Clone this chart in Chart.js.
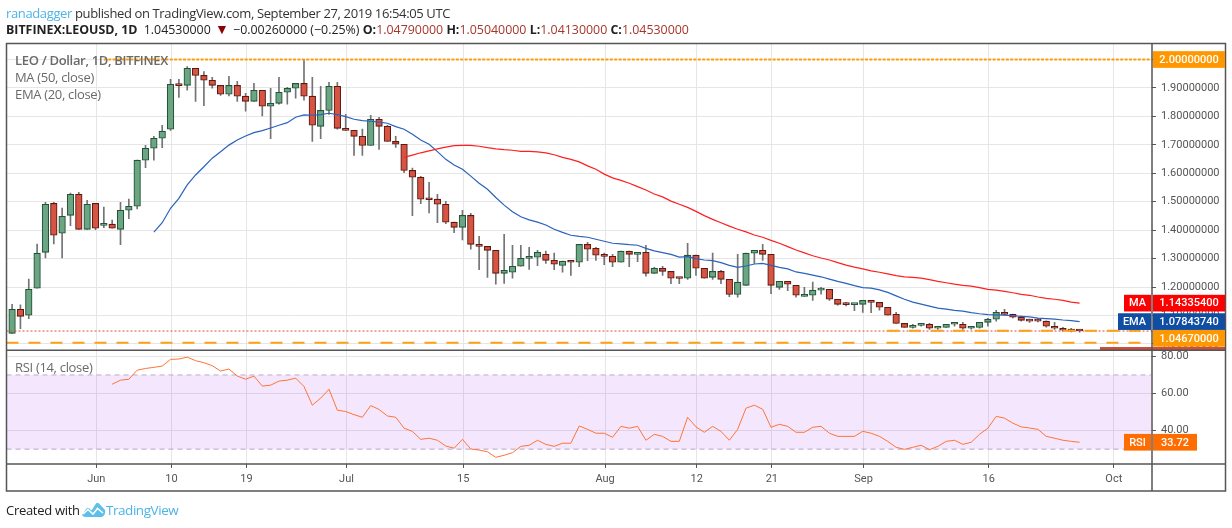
<!DOCTYPE html>
<html>
<head>
<meta charset="utf-8">
<script src="https://cdn.jsdelivr.net/npm/chart.js@4/dist/chart.umd.min.js"></script>
<style>
html,body{margin:0;padding:0;background:#fff;width:1232px;height:528px;overflow:hidden}
#wrap{position:relative;width:1232px;height:528px;font-family:"Open Sans",sans-serif}
canvas{position:absolute;left:0;top:0}
.t{position:absolute;white-space:nowrap}
.lg{color:#6a6a6a;font-size:13px;left:15px;line-height:16px;letter-spacing:-.32px}
.r{color:#a5362c}
</style>
</head>
<body>
<div id="wrap">
<canvas id="c" width="1232" height="528"></canvas>
<div class="t" style="left:6px;top:4px;font-size:13px;letter-spacing:-.37px;line-height:18px;color:#333"><span style="color:#4cb4e7">ranadagger</span> published on TradingView.com, September 27, 2019 16:54:05 UTC</div>
<div class="t" style="left:6px;top:21px;font-size:12.4px;line-height:18px;color:#222"><b>BITFINEX:LEOUSD, 1D</b> <span style="margin-left:3px">1.04530000</span> <span style="color:#8b0000;font-size:14px;line-height:14px;margin:0 1px">▼</span> −0.00260000 (−0.25%) <b>O:</b><span class="r">1.04790000</span> <b>H:</b><span class="r">1.05040000</span> <b>L:</b><span class="r">1.04130000</span> <b>C:</b><span class="r">1.04530000</span></div>
<div class="t lg" style="top:52px;font-weight:600">LEO / Dollar, 1D, BITFINEX</div>
<div class="t lg" style="top:69px">MA (50, close)</div>
<div class="t lg" style="top:86px">EMA (20, close)</div>
<div class="t lg" style="top:359px">RSI (14, close)</div>
<div class="t" style="left:6px;top:501px;font-size:13px;letter-spacing:-.3px;line-height:18px;color:#222">Created with</div>
<svg class="t" style="left:82px;top:502px" width="24" height="16" viewBox="0 0 24 16"><path d="M0 13 L4 7 Q6 5 8 7 L9.5 8.5 L14 1.5 Q15.5 0 17 1.5 L23 8 Q24 13 20 15 L4 15 Q1 15 0 13Z" fill="#5cc0ea"/><path d="M1 12 L6 7.5 L11 12 L15.5 6.5 L21 11" fill="none" stroke="#fff" stroke-width="1.6"/></svg>
<div class="t" style="left:106px;top:501px;font-size:13.5px;letter-spacing:-.45px;line-height:18px;color:#4cb4e7">TradingView</div>
</div>
<script>
const firstDay = -10;
const tickDays = [0,9,18,30,44,61,72,81,92,107,122];
const tickNames = ['Jun','10','19','Jul','15','Aug','12','21','Sep','16','Oct'];
const priceTicks = [1.0,1.1,1.2,1.3,1.4,1.5,1.6,1.7,1.8,1.9,2.0];
const rsiTicks = [40,60,80];

const opens = [
1.037,1.122,1.101,1.196,1.322,1.494,1.389,1.452,1.526,1.403,
1.494,1.417,1.421,1.403,1.470,1.484,1.646,1.688,1.723,1.755,
1.913,1.909,1.969,1.944,1.927,1.909,1.878,1.909,1.871,1.853,
1.892,1.836,1.846,1.885,1.899,1.916,1.871,1.765,1.821,1.906,
1.758,1.751,1.730,1.698,1.790,1.765,1.712,1.702,1.610,1.586,
1.509,1.509,1.491,1.428,1.410,1.452,1.350,1.343,1.329,1.248,
1.252,1.273,1.301,1.305,1.315,1.294,1.276,1.291,1.287,1.350,
1.336,1.312,1.308,1.287,1.326,1.315,1.322,1.248,1.266,1.255,
1.231,1.231,1.312,1.266,1.234,1.255,1.227,1.174,1.206,1.319,
1.329,1.315,1.199,1.220,1.206,1.167,1.171,1.189,1.192,1.157,
1.139,1.138,1.139,1.153,1.146,1.129,1.104,1.072,1.058,1.065,
1.069,1.055,1.058,1.069,1.069,1.055,1.058,1.076,1.087,1.111,
1.104,1.094,1.083,1.083,1.080,1.062,1.055,1.051,1.0479];
const highs = [
1.139,1.137,1.228,1.351,1.498,1.498,1.478,1.530,1.533,1.505,
1.494,1.481,1.435,1.498,1.509,1.646,1.698,1.730,1.769,1.930,
1.930,1.975,1.969,1.958,1.937,1.909,1.941,1.923,1.881,1.916,
1.892,1.899,1.937,1.902,1.916,2.000,1.937,1.906,1.920,1.920,
1.807,1.751,1.755,1.804,1.797,1.769,1.730,1.702,1.618,1.589,
1.568,1.526,1.501,1.428,1.470,1.459,1.378,1.343,1.329,1.385,
1.347,1.347,1.340,1.329,1.326,1.319,1.291,1.291,1.350,1.357,
1.340,1.319,1.315,1.326,1.326,1.322,1.347,1.269,1.273,1.255,
1.233,1.354,1.312,1.266,1.319,1.259,1.227,1.315,1.319,1.329,
1.350,1.315,1.220,1.220,1.206,1.199,1.217,1.199,1.192,1.157,
1.146,1.141,1.153,1.153,1.146,1.129,1.111,1.072,1.069,1.072,
1.072,1.062,1.069,1.076,1.076,1.059,1.076,1.090,1.118,1.122,
1.105,1.098,1.087,1.090,1.081,1.076,1.058,1.055,1.0504];
const lows = [
1.037,1.054,1.089,1.196,1.302,1.352,1.302,1.416,1.403,1.403,
1.402,1.409,1.407,1.349,1.440,1.475,1.620,1.646,1.690,1.751,
1.867,1.892,1.853,1.838,1.899,1.874,1.872,1.853,1.818,1.853,
1.802,1.722,1.843,1.843,1.864,1.857,1.712,1.722,1.807,1.755,
1.751,1.663,1.663,1.698,1.684,1.712,1.691,1.602,1.451,1.493,
1.461,1.426,1.423,1.391,1.366,1.333,1.261,1.234,1.210,1.213,
1.231,1.273,1.262,1.275,1.283,1.261,1.252,1.241,1.272,1.293,
1.294,1.279,1.272,1.287,1.272,1.289,1.238,1.248,1.241,1.212,
1.212,1.227,1.241,1.231,1.227,1.212,1.166,1.164,1.206,1.283,
1.294,1.177,1.192,1.187,1.164,1.167,1.153,1.175,1.153,1.136,
1.134,1.117,1.111,1.110,1.119,1.101,1.072,1.058,1.055,1.062,
1.051,1.051,1.058,1.062,1.051,1.052,1.055,1.062,1.080,1.101,
1.091,1.080,1.076,1.077,1.059,1.051,1.045,1.042,1.0413];
const closes = [
1.122,1.097,1.192,1.319,1.491,1.382,1.449,1.526,1.403,1.491,
1.407,1.424,1.407,1.470,1.484,1.646,1.688,1.723,1.748,1.913,
1.908,1.969,1.944,1.927,1.909,1.878,1.909,1.871,1.853,1.892,
1.836,1.846,1.885,1.899,1.916,1.871,1.769,1.821,1.906,1.758,
1.751,1.730,1.698,1.790,1.765,1.712,1.702,1.610,1.586,1.509,
1.507,1.491,1.428,1.410,1.452,1.350,1.343,1.329,1.248,1.259,
1.273,1.301,1.305,1.322,1.294,1.280,1.291,1.287,1.350,1.333,
1.312,1.308,1.287,1.326,1.315,1.322,1.248,1.266,1.255,1.231,
1.230,1.312,1.266,1.231,1.255,1.227,1.174,1.217,1.319,1.329,
1.315,1.206,1.220,1.210,1.171,1.171,1.189,1.193,1.157,1.139,
1.138,1.139,1.153,1.146,1.129,1.101,1.072,1.058,1.065,1.069,
1.055,1.058,1.069,1.069,1.055,1.058,1.076,1.087,1.111,1.104,
1.094,1.083,1.080,1.080,1.062,1.055,1.048,1.045,1.0453];

const maStart = 47;
const maValues = [
1.656,1.664,1.672,1.679,1.686,1.692,1.697,1.698,1.698,1.695,1.690,1.686,1.683,1.681,1.677,1.677,1.675,1.672,1.665,1.656,
1.649,1.640,1.626,1.614,1.597,1.584,1.575,1.565,1.553,1.541,1.527,1.517,1.502,1.491,1.480,1.466,1.451,1.438,1.426,1.414,
1.403,1.394,1.383,1.375,1.364,1.354,1.342,1.330,1.320,1.310,1.302,1.295,1.286,1.277,1.270,1.264,1.257,1.252,1.246,1.240,
1.236,1.234,1.231,1.226,1.220,1.215,1.210,1.206,1.203,1.198,1.192,1.189,1.185,1.180,1.174,1.171,1.165,1.160,1.157,1.153,
1.147,1.143354];
const emaStart = 17;
const emaValues = [
1.393,1.426,1.477,1.512,1.559,1.594,1.623,1.653,1.676,1.699,1.717,1.731,1.743,1.750,1.759,1.769,1.778,1.797,1.805,1.804,
1.806,1.811,1.806,1.799,1.790,1.785,1.783,1.780,1.776,1.764,1.755,1.737,1.717,1.702,1.676,1.649,1.629,1.614,1.590,1.565,
1.544,1.515,1.488,1.465,1.447,1.436,1.428,1.418,1.403,1.392,1.382,1.378,1.375,1.368,1.361,1.354,1.352,1.349,1.347,1.336,
1.327,1.321,1.315,1.305,1.307,1.300,1.295,1.293,1.286,1.276,1.269,1.274,1.281,1.283,1.276,1.269,1.264,1.253,1.248,1.242,
1.236,1.228,1.220,1.213,1.205,1.198,1.196,1.190,1.181,1.169,1.157,1.147,1.140,1.133,1.126,1.122,1.118,1.115,1.110,1.106,
1.103,1.102,1.101,1.099,1.097,1.095,1.091,1.089,1.087,1.084,1.082,1.0784374];
const rsiStart = 12;
const rsiValues = [
65.0,67.2,67.7,72.6,73.5,74.1,74.8,78.4,78.6,79.6,77.7,76.6,75.0,72.1,73.2,69.4,67.7,69.4,64.0,64.5,
66.7,67.2,68.3,63.8,53.7,57.5,62.3,51.0,50.3,48.6,47.2,53.5,51.4,47.9,47.2,41.3,39.6,35.3,35.9,34.8,
31.7,30.5,35.3,30.1,29.5,28.6,25.6,26.7,28.1,31.5,32.1,34.8,32.6,31.5,33.2,33.2,42.5,40.7,38.6,38.6,
36.4,42.3,41.3,42.3,34.8,38.0,36.9,34.2,34.2,47.2,42.0,39.1,42.3,39.6,34.8,40.7,52.1,53.7,51.5,41.8,
43.4,42.3,39.1,39.1,41.8,42.3,38.6,36.9,36.9,36.9,39.6,38.6,36.9,34.2,31.0,29.9,31.0,32.1,29.7,31.5,
34.2,34.8,32.6,33.7,38.0,41.3,47.7,46.7,44.0,42.0,41.4,40.7,36.9,35.9,34.8,34.2,33.72];

const resistance = 2.0, support = 1.0045, alertLevel = 1.0467, lastClose = 1.0453;
const rsiUpper = 70, rsiLower = 30;
const dayMin = -10.67, dayMax = 126.68;
const xOf = i => firstDay + i;
const seq = (start, vals) => vals.map((v,i)=>({x:xOf(start+i), y:v}));
const flat = (a,b,v) => [{x:a,y:v},{x:b,y:v}];

const UP='#6ba583', DOWN='#d75442', UPB='#225437', DOWNB='#5b1a13', WICK='#737375';
const isUp = i => closes[i] >= opens[i];
const FONT = 'Roboto';

const frame = {
  id:'frame',
  afterDraw(ch){
    const c = ch.ctx, {left,right,top,bottom} = ch.chartArea;
    const y = ch.scales.y, r = ch.scales.rsi;
    const rightEdge = 1225.5, bottomEdge = 491;
    c.save();
    c.fillStyle = '#c9503f';
    c.fillRect(1100,347,rightEdge-1100,3);
    c.strokeStyle='#555'; c.lineWidth=1.5;
    c.strokeRect(left,top,rightEdge-left,bottomEdge-top);
    c.beginPath();
    c.moveTo(left,y.bottom+.25); c.lineTo(rightEdge,y.bottom+.25);
    c.moveTo(left,bottom); c.lineTo(rightEdge,bottom);
    c.moveTo(right,top); c.lineTo(right,bottomEdge);
    c.stroke();
    const box = (x0,x1,yc,col,txt,h=16.7) => {
      c.fillStyle=col; c.fillRect(x0,yc-h/2,x1-x0,h);
      c.fillStyle='#fff'; c.font='500 11px '+FONT; c.textAlign='center'; c.textBaseline='middle';
      c.fillText(txt,(x0+x1)/2,yc+.5);
    };
    const ax0=1153, ax1=rightEdge-.5;
    const lastMa=maValues[maValues.length-1], lastEma=emaValues[emaValues.length-1], lastRsi=rsiValues[rsiValues.length-1];
    box(ax0,ax1,y.getPixelForValue(resistance),'#ff9800',resistance.toFixed(8));
    const my=y.getPixelForValue(lastMa);
    box(1124,1151,my,'#ff0000','MA'); box(ax0,ax1,my,'#ff0000',lastMa.toFixed(8));
    const ey=y.getPixelForValue(lastEma);
    box(1118,1151,ey,'#0f4ea3','EMA'); box(ax0,ax1,ey,'#0f4ea3',lastEma.toFixed(8));
    box(ax0,ax1,y.getPixelForValue(alertLevel)+7.7,'#ff9800',alertLevel.toFixed(8));
    const ry=r.getPixelForValue(lastRsi);
    box(1124,1151,ry,'#ff6d00','RSI'); box(ax0,1197,ry,'#ff6d00',lastRsi.toFixed(2));
    c.restore();
  }
};

const gridCfg = {color:'#e6e6e6',lineWidth:1,tickColor:'#555',tickLength:4,offset:false};

new Chart(document.getElementById('c'),{
  type:'bar',
  plugins:[frame],
  data:{datasets:[
    {type:'line',label:'MA',yAxisID:'y',data:seq(maStart,maValues),borderColor:'#ff1f1f',borderWidth:1.2,pointRadius:0,tension:0,order:1},
    {type:'line',label:'EMA',yAxisID:'y',data:seq(emaStart,emaValues),borderColor:'#2a62bd',borderWidth:1.2,pointRadius:0,tension:0,order:1},
    {type:'line',label:'RSI',yAxisID:'rsi',data:seq(rsiStart,rsiValues),borderColor:'#ff7433',borderWidth:1,pointRadius:0,tension:0,order:1},
    {type:'line',label:'upper',yAxisID:'rsi',data:flat(dayMin,dayMax-.1,rsiUpper),borderColor:'#b9adc3',borderWidth:1,borderDash:[5,4],pointRadius:0,
      fill:{value:rsiLower},backgroundColor:'rgba(152,30,235,0.105)',order:9},
    {type:'line',label:'lower',yAxisID:'rsi',data:flat(dayMin,dayMax-.1,rsiLower),borderColor:'#b9adc3',borderWidth:1,borderDash:[5,4],pointRadius:0,order:9},
    {type:'line',label:'res',yAxisID:'y',data:flat(1,dayMax-.2,resistance),borderColor:'rgba(255,152,0,.95)',borderWidth:2.2,borderDash:[3,1.4],pointRadius:0,order:2},
    {type:'line',label:'sup',yAxisID:'y',data:flat(dayMin,125.3,support),borderColor:'#ff9f14',borderWidth:2,borderDash:[12,10],pointRadius:0,order:2},
    {type:'line',label:'alert',yAxisID:'y',data:flat(94.9,125.3,alertLevel),borderColor:'#ff9f14',borderWidth:2,borderDash:[12,10],pointRadius:0,order:2},
    {type:'line',label:'last',yAxisID:'y',data:flat(dayMin,dayMax,lastClose),borderColor:'#d84a3f',borderWidth:1,borderDash:[2,2],pointRadius:0,order:2},
    {label:'body',yAxisID:'y',grouped:false,order:4,barThickness:6.6,minBarLength:2,
      data:opens.map((o,i)=>({x:xOf(i),y:[o,closes[i]]})),
      backgroundColor:opens.map((o,i)=>isUp(i)?UP:DOWN),
      borderColor:opens.map((o,i)=>isUp(i)?UPB:DOWNB),borderWidth:1.1,borderSkipped:false},
    {label:'wick',yAxisID:'y',grouped:false,order:5,barThickness:1,
      data:lows.map((l,i)=>({x:xOf(i),y:[l,highs[i]]})),backgroundColor:WICK,borderWidth:0}
  ]},
  options:{
    responsive:false,animation:false,events:[],
    layout:{padding:{left:6.5,top:43.5,right:6.5,bottom:37}},
    plugins:{legend:{display:false},tooltip:{enabled:false},title:{display:false}},
    scales:{
      x:{type:'linear',position:'bottom',offset:false,min:dayMin,max:dayMax,
        grid:gridCfg,border:{display:false},
        afterBuildTicks(s){s.ticks=tickDays.map(v=>({value:v+0.1}));},
        afterFit(s){s.height=27;},
        ticks:{autoSkip:false,maxRotation:0,padding:5,color:'#555',font:{family:FONT,size:11},
          callback:(v,i)=>tickNames[i]}},
      y:{type:'linear',axis:'y',position:'right',stack:'panes',stackWeight:306.5,weight:0,min:0.9786,max:2.0563,
        grid:gridCfg,border:{display:false},
        afterBuildTicks(s){s.ticks=priceTicks.map(v=>({value:v}));},
        afterFit(s){s.width=73.5;},
        ticks:{autoSkip:false,padding:5,color:'#555',font:{family:FONT,size:11},callback:v=>(+v).toFixed(8)}},
      rsi:{type:'linear',axis:'y',position:'right',stack:'panes',stackWeight:114,weight:1,min:22,max:83.46,
        grid:gridCfg,border:{display:false},
        afterBuildTicks(s){s.ticks=rsiTicks.map(v=>({value:v}));},
        afterFit(s){s.width=73.5;},
        ticks:{autoSkip:false,padding:5,color:'#555',font:{family:FONT,size:11},callback:v=>(+v).toFixed(2)}}
    }
  }
});
</script>
</body>
</html>
